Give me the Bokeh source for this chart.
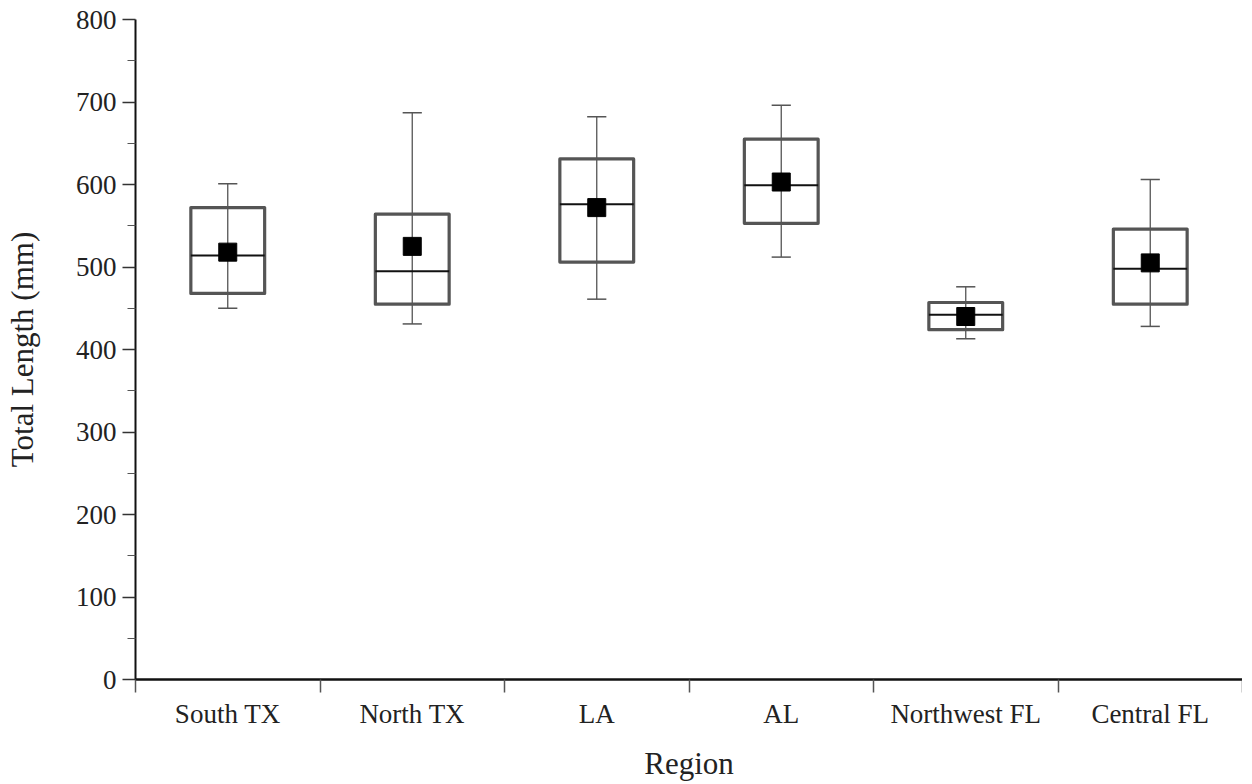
from bokeh.plotting import figure
from bokeh.models import ColumnDataSource, FixedTicker
from bokeh.embed import file_html
from bokeh.resources import INLINE

# ---- data ----
regions = ["South TX", "North TX", "LA", "AL", "Northwest FL", "Central FL"]
whisker_low = [450, 431, 461, 512, 413, 428]
box_low = [468, 455, 506, 553, 424, 455]
median = [514, 495, 576, 599, 442, 498]
box_high = [572, 564, 631, 655, 457, 546]
whisker_high = [601, 687, 682, 696, 476, 606]
mean = [518, 525, 572, 603, 440, 505]
y_ticks = [0, 100, 200, 300, 400, 500, 600, 700, 800]

# ---- layout constants ----
BOX_HALF = 0.20
CAP_HALF = 0.052
FONT = "Liberation Serif"
TXT = "#222222"

x = [i + 0.5 for i in range(len(regions))]
src = ColumnDataSource(dict(
    x=x,
    left=[v - BOX_HALF for v in x],
    right=[v + BOX_HALF for v in x],
    cl=[v - CAP_HALF for v in x],
    cr=[v + CAP_HALF for v in x],
    wl=whisker_low, bl=box_low, med=median, bh=box_high, wh=whisker_high, mean=mean,
))

p = figure(frame_width=1107, frame_height=660, output_backend="svg", toolbar_location=None,
           x_range=(0, len(regions)), y_range=(0, 800),
           min_border_left=135, min_border_right=0, min_border_top=19, min_border_bottom=95)
p.outline_line_color = None
p.grid.visible = False
p.background_fill_color = "white"
p.border_fill_color = "white"

# whiskers
p.segment(x0="x", x1="x", y0="wl", y1="wh", source=src, line_color="#555555", line_width=1.3)
p.segment(x0="cl", x1="cr", y0="wh", y1="wh", source=src, line_color="#555555", line_width=1.5)
p.segment(x0="cl", x1="cr", y0="wl", y1="wl", source=src, line_color="#555555", line_width=1.5)
# boxes
p.quad(left="left", right="right", bottom="bl", top="bh", source=src, fill_color=None,
       line_color="#555555", line_width=3.2, line_join="round")
# median
p.segment(x0="left", x1="right", y0="med", y1="med", source=src, line_color="#111111", line_width=2)
# mean
p.scatter(x="x", y="mean", source=src, marker="square", size=18, fill_color="black", line_color="black")

# y axis
ya = p.yaxis[0]
ya.ticker = FixedTicker(ticks=y_ticks, minor_ticks=[v + 50 for v in y_ticks[:-1]])
ya.axis_label = "Total Length (mm)"
ya.axis_label_text_font = FONT
ya.axis_label_text_font_size = "31px"
ya.axis_label_text_font_style = "normal"
ya.axis_label_text_color = TXT
ya.axis_label_standoff = 33
ya.major_label_text_font = FONT
ya.major_label_text_font_size = "27px"
ya.major_label_text_color = TXT
ya.major_label_standoff = 6
ya.major_tick_out = 13
ya.major_tick_in = 0
ya.minor_tick_out = 8
ya.minor_tick_in = 0
ya.axis_line_width = 2
ya.axis_line_color = "#111111"
ya.major_tick_line_color = "#333333"
ya.minor_tick_line_color = "#555555"
ya.major_tick_line_width = 1.5

# x axis
xa = p.xaxis[0]
xa.ticker = FixedTicker(ticks=x, minor_ticks=list(range(len(regions) + 1)))
xa.major_label_overrides = {v: r for v, r in zip(x, regions)}
xa.axis_label = "Region"
xa.axis_label_text_font = FONT
xa.axis_label_text_font_size = "31px"
xa.axis_label_text_font_style = "normal"
xa.axis_label_text_color = TXT
xa.axis_label_standoff = 14
xa.major_label_text_font = FONT
xa.major_label_text_font_size = "27px"
xa.major_label_text_color = TXT
xa.major_tick_line_color = None
xa.major_tick_out = 0
xa.major_tick_in = 0
xa.major_label_standoff = 6
xa.minor_tick_out = 13
xa.minor_tick_in = 0
xa.minor_tick_line_color = "#555555"
xa.minor_tick_line_width = 1.5
xa.axis_line_width = 2.5
xa.axis_line_color = "#111111"

open("out.html", "w").write(file_html(p, INLINE))
